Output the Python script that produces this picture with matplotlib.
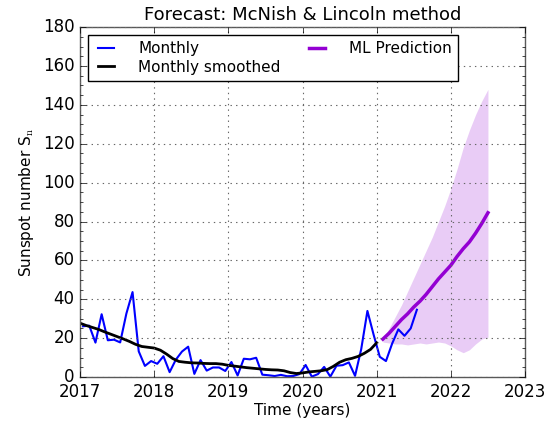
import numpy as np
import matplotlib
matplotlib.use("Agg")
import matplotlib.pyplot as plt
from matplotlib.ticker import MultipleLocator, FormatStrFormatter
plt.style.use("classic")

# monthly mean sunspot number, Jan 2017 .. Jul 2021
monthly = [26.1, 26.4, 17.7, 32.3, 18.9, 19.2, 17.8, 32.6, 43.7, 13.2, 5.7, 8.2,
           6.8, 10.7, 2.5, 8.9, 13.1, 15.6, 1.6, 8.7, 3.3, 4.9, 4.9, 3.1,
           7.7, 0.8, 9.4, 9.1, 9.9, 1.2, 0.9, 0.5, 1.1, 0.4, 0.5, 1.5,
           6.2, 0.2, 1.5, 5.2, 0.2, 5.8, 6.1, 7.5, 0.6, 14.4, 34.0, 21.8,
           10.4, 8.2, 17.2, 24.5, 21.2, 25.0, 34.6]
t_monthly = 2017 + (np.arange(len(monthly)) + 0.5) / 12.0

# 13-month smoothed, Jan 2017 .. Jan 2021
smoothed = [27.7, 26.5, 25.5, 24.5, 23.2, 22.0, 20.8, 19.6, 18.3, 16.8, 15.7, 15.3,
            14.9, 13.8, 11.8, 9.5, 8.0, 7.6, 7.3, 7.2, 7.0, 6.9, 6.9, 6.6,
            6.0, 5.6, 5.2, 4.8, 4.5, 4.2, 3.9, 3.7, 3.6, 3.2, 2.3, 1.8,
            2.1, 2.6, 2.9, 3.2, 3.8, 5.5, 7.6, 8.9, 9.6, 10.6, 12.2, 14.2,
            17.6]
t_smoothed = 2017 + np.arange(len(smoothed)) / 12.0

# ML prediction with uncertainty band, Feb 2021 .. Jul 2022
pred = [19.5, 22.5, 26.0, 29.5, 32.5, 36.0, 39.0, 42.5, 46.5, 50.5, 54.0, 57.5,
        62.0, 66.0, 69.5, 74.0, 79.0, 84.5]
upper = [20, 25, 31, 37, 44, 51, 58, 65, 72, 80, 88, 97,
         107, 118, 127, 135, 142, 148]
lower = [18, 17.5, 17, 17, 16.5, 17, 17.5, 17, 17.5, 18, 17.5, 16,
         14, 12.5, 14, 17, 19.5, 20.5]
t_pred = 2021 + (np.arange(len(pred)) + 1) / 12.0

fig = plt.figure(figsize=(5.56, 4.21), dpi=100, facecolor="white")
ax = fig.add_axes([0.1439, 0.1045, 0.8004, 0.831])

ax.fill_between(t_pred, lower, upper, color="darkviolet", alpha=0.2, lw=0)
ax.plot(t_monthly, monthly, color="b", lw=1.5, label="Monthly")
ax.plot(t_smoothed, smoothed, color="k", lw=2, label="Monthly smoothed")
ax.plot(t_pred, pred, color="darkviolet", lw=2.5, label="ML Prediction")

ax.set_xlim(2017, 2023)
ax.set_ylim(0, 180)
ax.xaxis.set_major_formatter(FormatStrFormatter("%d"))
ax.yaxis.set_minor_locator(MultipleLocator(5))
ax.grid(True, color="0.4", linestyle=":", linewidth=0.8)
for s in ax.spines.values():
    s.set_color("0.35")

ax.set_title("Forecast: McNish & Lincoln method", fontsize=13)
ax.set_xlabel("Time (years)", fontsize=11, labelpad=2)
ax.set_ylabel(r"Sunspot number S$_\mathrm{n}$", fontsize=11)
ax.tick_params(labelsize=12)
ax.legend(loc="upper left", ncol=2, fontsize=11, handlelength=1.6,
          handletextpad=1.3, labelspacing=0.25, borderaxespad=0.5,
          columnspacing=1.6, framealpha=1)

fig.savefig("out.png", dpi=100, facecolor="white")
